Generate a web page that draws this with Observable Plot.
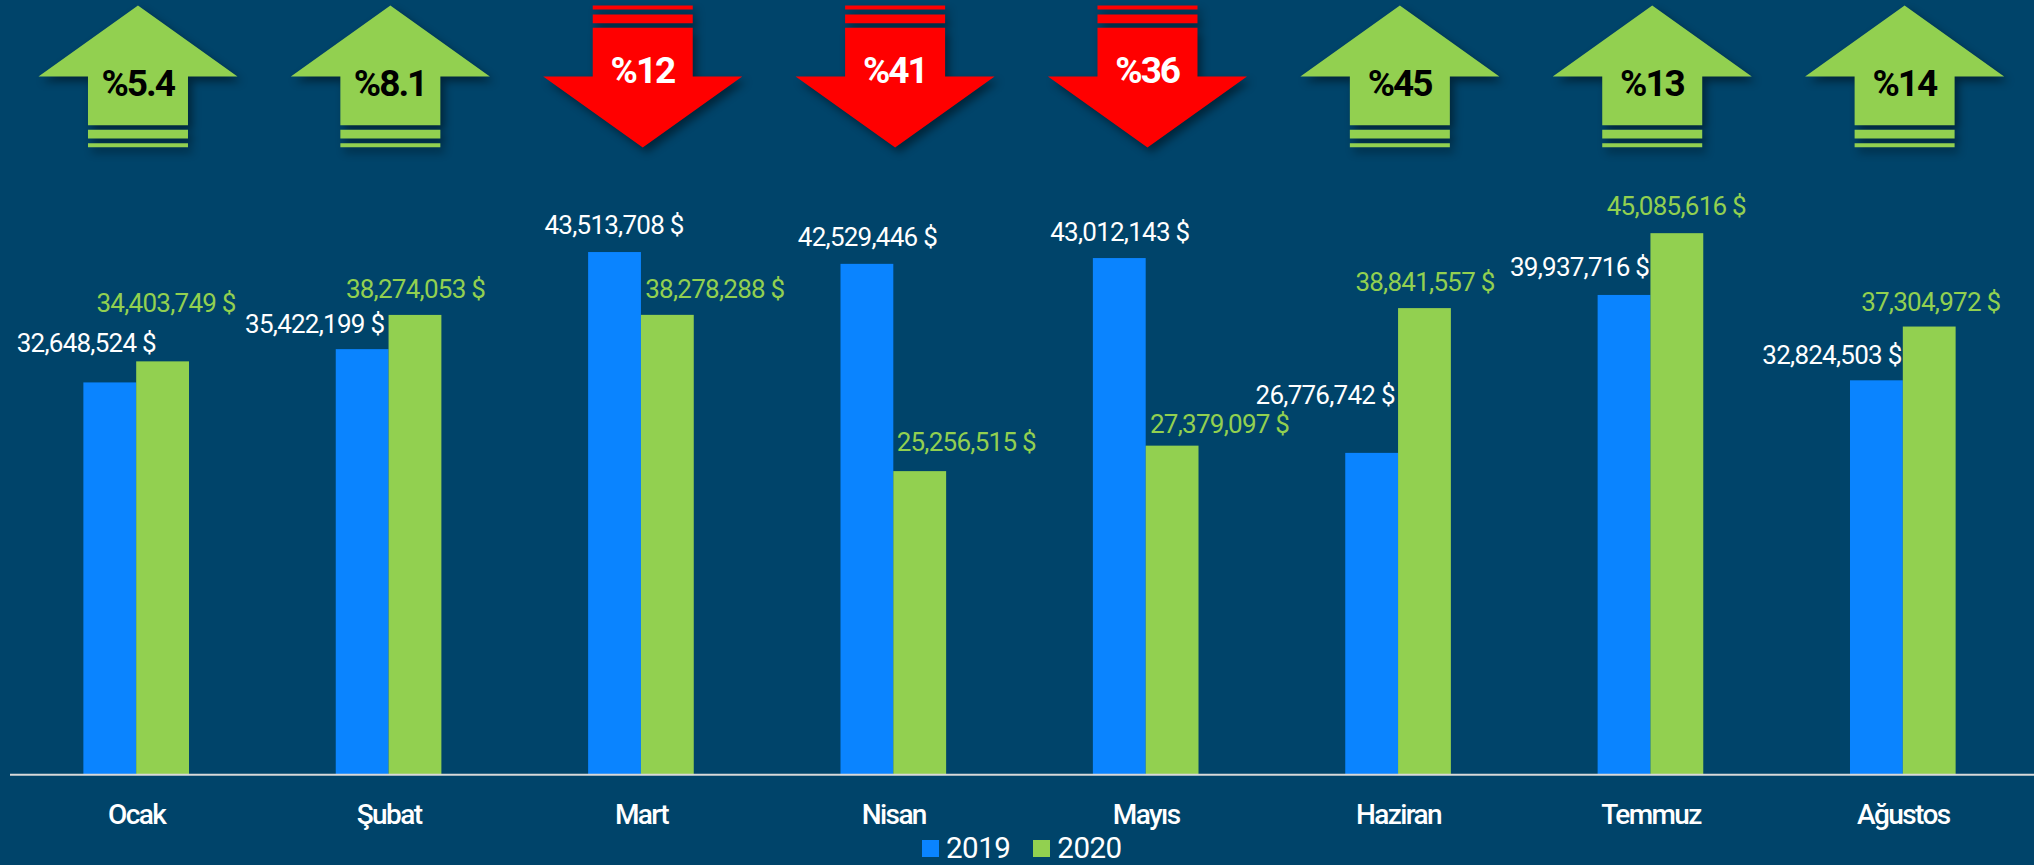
<!DOCTYPE html>
<html><head><meta charset="utf-8">
<script src="https://cdn.jsdelivr.net/npm/d3@7"></script>
<script src="https://cdn.jsdelivr.net/npm/@observablehq/plot@0.6"></script>
<style>
html,body{margin:0;padding:0;background:#00446A;}
#wrap{position:relative;width:2034px;height:865px;overflow:hidden;}
#legend{position:absolute;left:922px;top:832px;height:32px;display:flex;align-items:center;color:#fff;font:29.5px Roboto,sans-serif;letter-spacing:-.5px;}
#legend i{display:inline-block;width:17px;height:17px;margin-right:7px;}
#legend span{margin-right:23px;}
svg text{letter-spacing:-.75px;}
svg text.axislabel{letter-spacing:-1.6px;}
svg text.arrowlabel{letter-spacing:-2px;}
</style></head><body>
<div id="wrap"><div id="chart"></div>
<div id="legend"><i style="background:#0A84FF"></i><span>2019</span><i style="background:#92D050"></i><span>2020</span></div></div>
<script>
const months = ["Ocak","Şubat","Mart","Nisan","Mayıs","Haziran","Temmuz","Ağustos"];
const values2019 = [32648524,35422199,43513708,42529446,43012143,26776742,39937716,32824503];
const values2020 = [34403749,38274053,38278288,25256515,27379097,38841557,45085616,37304972];
const changes = ["%5.4","%8.1","%12","%41","%36","%45","%13","%14"];
const directions = ["up","up","down","down","down","up","up","up"];

const offsets2019 = [[-24,-39],[-48,-25],[-1,-27],[0,-27],[0,-26],[-47,-58],[-45,-28],[-45,-25]];
const offsets2020 = [[3,-58],[0,-26],[47,-26],[46,-29],[47,-21],[0,-26],[-1,-27],[1,-24]];

const FONT = 'Roboto,sans-serif';
const BLUE="#0A84FF", GREEN="#92D050", RED="#FF0000";
const BASELINE=774.2, PX_PER_MILLION=12;

const rows = months.flatMap((m,i)=>[
  {month:m,year:"2019",value:values2019[i],off:offsets2019[i],color:"#fff"},
  {month:m,year:"2020",value:values2020[i],off:offsets2020[i],color:GREEN}
]);
const arrows = months.map((m,i)=>({month:m,label:changes[i],dir:directions[i]}));

// arrow glyphs are centred on the base of the arrow head
const upArrow = {draw(c){
  c.moveTo(0,-71);c.lineTo(99.5,0);c.lineTo(50,0);c.lineTo(50,48.7);c.lineTo(-50,48.7);c.lineTo(-50,0);c.lineTo(-99.5,0);c.closePath();
  c.rect(-50,53.3,100,8.7);
  c.rect(-50,66.7,100,4);
}};
const downArrow = {draw(c){
  c.moveTo(0,71);c.lineTo(99.5,0);c.lineTo(50,0);c.lineTo(50,-48.7);c.lineTo(-50,-48.7);c.lineTo(-50,0);c.lineTo(-99.5,0);c.closePath();
  c.rect(-50,-62,100,8.7);
  c.rect(-50,-71,100,4);
}};
const shadow="drop-shadow(4px 5px 4px rgba(0,0,0,.45))";
const fmt=d=>d3.format(",")(d)+" $";
const yDomain=[0,BASELINE/PX_PER_MILLION*1e6];

const plot = Plot.plot({
  width:2034,height:865,
  marginLeft:10,marginRight:5,marginTop:0,marginBottom:865-BASELINE,
  style:{background:"transparent",fontFamily:FONT},
  fx:{domain:months,paddingInner:0.5814,paddingOuter:0.2907,round:false,label:null,axis:null},
  x:{domain:["2019","2020"],padding:0,round:false,axis:null,label:null},
  y:{domain:yDomain,axis:null},
  color:{domain:["2019","2020"],range:[BLUE,GREEN]},
  marks:[
    Plot.barY(rows,{fx:"month",x:"year",y:"value",fill:"year"}),
    Plot.axisFx({anchor:"bottom",tickSize:0,tickPadding:29,fontSize:28,fontWeight:500,fill:"#fff",label:null}),
    ...rows.map(r=>Plot.text([r],{fx:"month",x:"year",y:"value",text:d=>fmt(d.value),fill:r.color,fontSize:26,dx:r.off[0],dy:r.off[1]})),
    Plot.dot(arrows.filter(a=>a.dir==="up"),{fx:"month",frameAnchor:"top",dy:76,dx:1.3,r:10,symbol:upArrow,fill:GREEN,stroke:"none",imageFilter:shadow}),
    Plot.dot(arrows.filter(a=>a.dir==="down"),{fx:"month",frameAnchor:"top",dy:76,dx:1.3,r:10,symbol:downArrow,fill:RED,stroke:"none",imageFilter:shadow}),
    Plot.text(arrows.filter(a=>a.dir==="up"),{fx:"month",frameAnchor:"top",lineAnchor:"middle",dy:84,dx:1,text:"label",fill:"#000",fontSize:37,fontWeight:"bold"}),
    Plot.text(arrows.filter(a=>a.dir==="down"),{fx:"month",frameAnchor:"top",lineAnchor:"middle",dy:71,dx:1,text:"label",fill:"#fff",fontSize:37,fontWeight:"bold"})
  ]
});
plot.querySelectorAll('text').forEach(t=>{
  const s=t.textContent.trim();
  if(changes.includes(s)) t.classList.add("arrowlabel");
  if(months.includes(s)) t.classList.add("axislabel");
});
document.getElementById("chart").appendChild(plot);
// baseline across the whole chart, including the facet margins
const baseline = Plot.plot({width:2034,height:865,marginLeft:10,marginRight:0,marginTop:0,marginBottom:865-BASELINE,
  style:{background:"transparent",position:"absolute",left:0,top:0},
  x:{domain:[0,1],axis:null},y:{domain:yDomain,axis:null},
  marks:[Plot.ruleY([0],{stroke:"#D9D9D9",strokeWidth:2})]});
document.getElementById("wrap").appendChild(baseline);
</script>
</body></html>
